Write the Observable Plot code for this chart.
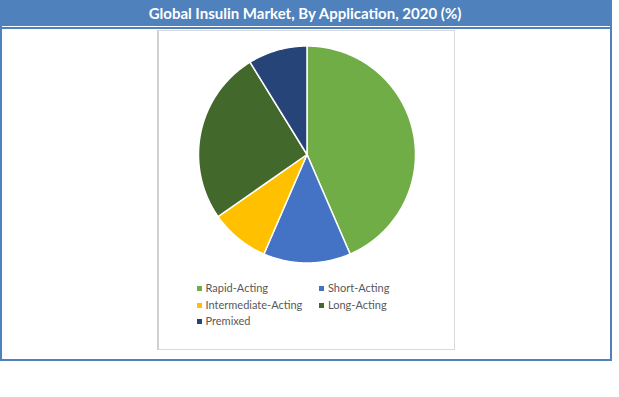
<!DOCTYPE html>
<html><head><meta charset="utf-8">
<script src="https://cdn.jsdelivr.net/npm/d3@7"></script>
<script src="https://cdn.jsdelivr.net/npm/@observablehq/plot@0.6"></script>
<style>
body{margin:0;background:#fff;width:619px;height:397px;position:relative;overflow:hidden;font-family:Lato,"Open Sans",sans-serif}
.abs{position:absolute}
#title{position:absolute;left:0;top:0;width:610px;height:26px;background:#4F81BD;color:#fff;font-weight:bold;font-size:15px;line-height:27px;text-align:center}
#box{position:absolute;left:157px;top:30px;width:295px;height:318px;border:1px solid #D9D9D9;border-left:2px solid #D0D0D0;background:#fff}
#chart{position:absolute;left:0;top:0}
.leg{position:absolute;font-size:11px;color:#595959;white-space:nowrap;line-height:12px}
.sw{display:inline-block;width:5px;height:5px;margin-right:4px;vertical-align:1px}
</style></head>
<body>
<div id="title"></div>
<div class="abs" style="left:1px;top:0;width:1px;height:26px;background:#fff"></div>
<div class="abs" style="left:0;top:0;width:1.5px;height:361px;background:#4F81BD"></div>
<div class="abs" style="left:610px;top:0;width:1.5px;height:361px;background:#4F81BD"></div>
<div class="abs" style="left:0;top:27px;width:611px;height:1.5px;background:#4F81BD"></div>
<div class="abs" style="left:0;top:359px;width:611px;height:2px;background:#4F81BD"></div>
<div id="box"><div id="chart"></div></div>
<script>
const title = "Global Insulin Market, By Application, 2020 (%)";
const categories = ["Rapid-Acting", "Short-Acting", "Intermediate-Acting", "Long-Acting", "Premixed"];
const shares = [43.5, 13.0, 8.8, 25.9, 8.8];
const colors = ["#70AD47", "#4472C4", "#FFC000", "#43682B", "#264478"];

document.getElementById("title").textContent = title;

// Build slice outlines (unit circle coordinates) from the shares
const total = d3.sum(shares);
const pts = [];
let acc = 0;
categories.forEach((name, i) => {
  const a0 = acc / total * 2 * Math.PI;
  acc += shares[i];
  const a1 = acc / total * 2 * Math.PI;
  pts.push({name, x: 0, y: 0});
  const n = Math.max(2, Math.ceil((a1 - a0) / (Math.PI / 360)));
  for (let k = 0; k <= n; k++) {
    const a = a0 + (a1 - a0) * k / n;
    pts.push({name, x: Math.sin(a), y: Math.cos(a)});
  }
  pts.push({name, x: 0, y: 0});
});

const W = 295, H = 318, cx = 147.5, cy = 123, R = 108.5;
const plot = Plot.plot({
  width: W, height: H, margin: 0,
  x: {domain: [-1, 1], range: [cx - R, cx + R], axis: null},
  y: {domain: [-1, 1], range: [cy + R, cy - R], axis: null},
  color: {domain: categories, range: colors},
  marks: [
    Plot.line(pts, {x: "x", y: "y", z: "name", fill: "name", stroke: "#fff", strokeWidth: 1.5, strokeLinejoin: "round", curve: "linear"})
  ]
});
document.getElementById("chart").appendChild(plot);

// Legend
const box = document.getElementById("box");
const colX = [37.5, 160], rowY = [257, 273.5, 289.5];
categories.forEach((name, i) => {
  const d = document.createElement("div");
  d.className = "leg";
  d.style.left = colX[i % 2] + "px";
  d.style.top = (rowY[Math.floor(i / 2)] - 6) + "px";
  d.innerHTML = `<span class="sw" style="background:${colors[i]}"></span>`;
  d.appendChild(document.createTextNode(name));
  box.appendChild(d);
});
</script>
</body></html>
